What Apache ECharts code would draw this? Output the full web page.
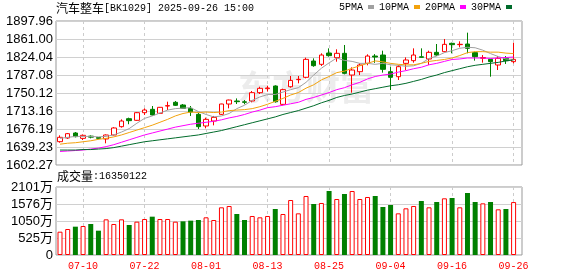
<!DOCTYPE html>
<html><head><meta charset="utf-8">
<script src="https://cdn.jsdelivr.net/npm/echarts@6/dist/echarts.min.js"></script>
<style>html,body{margin:0;padding:0;background:#fff}#c{width:578px;height:276px}</style>
</head><body><div id="c"></div>
<script>
const dates = ['07-07','07-08','07-09','07-10','07-11','07-14','07-15','07-16','07-17','07-18','07-21','07-22','07-23','07-24','07-25','07-28','07-29','07-30','07-31','08-01','08-04','08-05','08-06','08-07','08-08','08-11','08-12','08-13','08-14','08-15','08-18','08-19','08-20','08-21','08-22','08-25','08-26','08-27','08-28','08-29','09-01','09-02','09-03','09-04','09-05','09-08','09-09','09-10','09-11','09-12','09-15','09-16','09-17','09-18','09-19','09-22','09-23','09-24','09-25','09-26'];
const opens  = [1650.2,1657.7,1668,1657,1661.5,1658.8,1655.7,1663.9,1681,1697.4,1694,1709.7,1716.6,1708.4,1723.4,1731,1725.5,1718.6,1706.3,1682.4,1692.6,1706.3,1727.5,1733.7,1732,1733.7,1750.8,1759,1764.5,1726.8,1763,1777.5,1782.3,1815.8,1809,1832.2,1822.7,1831.6,1787,1793.9,1811,1826,1828.1,1793.9,1783.6,1811,1816.5,1824.5,1819.9,1833.6,1835,1852.1,1849.4,1850.7,1833,1821.3,1819.2,1807.6,1821.3,1814.5];
const closes = [1659.1,1666.6,1660.5,1663.2,1659.5,1657,1663.9,1678.3,1692.6,1693.3,1709.7,1715.2,1705,1720.7,1724.1,1724.8,1718.6,1711,1681,1696,1700,1727.5,1735.7,1732.3,1731,1750.8,1759.7,1760.4,1732.3,1757,1776,1778.2,1819.2,1806.2,1828.1,1826.8,1831.6,1790.5,1797.3,1807.6,1826,1824,1798.7,1782.3,1804.2,1817.9,1828.1,1823.4,1833.6,1828.1,1850,1849.4,1850.1,1841.8,1824.7,1823,1814.5,1821.3,1816.5,1819.2];
const lows   = [1648,1656,1659,1653.6,1657,1655,1646.8,1663,1679,1686,1693,1705,1703.6,1707,1715.2,1723.4,1717.3,1703,1676.2,1677.6,1683.7,1705,1718.6,1727.5,1727,1731,1748,1753,1730.3,1724.8,1761,1770,1780.2,1804,1805.6,1824.7,1814.4,1788.4,1750.8,1787,1807,1812,1791.9,1756.3,1776.8,1797.3,1812.4,1822.6,1807.6,1826,1833.6,1831.6,1843.9,1831.6,1816.5,1812.4,1783.6,1797.3,1809.7,1811];
const highs  = [1663.2,1668,1670,1665,1663,1659.5,1665,1680,1696,1699.5,1711,1718.6,1723.4,1721.4,1732.3,1733.7,1727.5,1723.4,1709.7,1699.5,1703,1728,1736.4,1739,1735.7,1754.2,1763,1765,1765.9,1759,1785,1785,1822.7,1821.3,1831.6,1841.8,1839.8,1848.7,1802.8,1811,1829.5,1830,1837,1804.2,1807.6,1823.3,1841.8,1841.8,1837,1850.7,1861,1853.5,1856.2,1874,1835,1828,1819.9,1826,1826,1853.5];
const ma5  = [1657,1659,1661,1661,1661,1660,1661,1664,1670,1677,1688,1698,1703,1709,1715,1718,1719,1720,1712,1706,1701,1703,1708,1718,1725,1735,1742,1747,1747,1752,1757,1761,1772,1787,1801,1812,1822,1817,1815,1811,1811,1809,1811,1808,1807,1805,1806,1811,1821,1826,1833,1837,1842,1844,1843,1838,1831,1825,1820,1819];
const ma10 = [1645,1647,1648,1650,1652,1655,1657,1660,1664,1669,1674,1679,1684,1690,1696,1703,1708,1711,1710,1711,1710,1711,1714,1715,1716,1718,1722,1727,1733,1739,1746,1751,1760,1767,1777,1784,1792,1795,1801,1806,1811,1816,1814,1811,1809,1808,1808,1811,1815,1817,1819,1822,1827,1833,1835,1835,1834,1834,1832,1831];
const ma20 = [1630,1631,1632,1633,1635,1637,1640,1644,1649,1654,1659,1664,1668,1672,1676,1680,1683,1686,1688,1690,1692,1695,1699,1702,1706,1711,1715,1720,1722,1725,1728,1731,1737,1741,1746,1751,1757,1761,1767,1772,1779,1784,1787,1789,1793,1796,1800,1803,1808,1811,1815,1819,1820,1822,1822,1822,1821,1822,1823,1824];
const ma30 = [1633,1633,1633,1634,1634,1635,1636,1638,1641,1644,1647,1650,1652,1654,1656,1658,1660,1662,1664,1667,1670,1673,1677,1681,1685,1689,1693,1697,1701,1706,1710,1714,1719,1724,1730,1735,1741,1745,1748,1752,1756,1759,1762,1765,1767,1770,1774,1778,1783,1787,1792,1796,1800,1804,1807,1809,1811,1813,1816,1818];
// volume in 万 (10k shares)
const volumes = [720,803,875,896,958,751,1102,958,1102,927,1030,1112,1184,1112,1112,1030,1040,1061,1081,1164,1081,1473,1514,1267,1081,1205,1164,1205,1421,1267,1699,1287,1823,1576,1607,1977,1730,1885,1977,1730,1792,1823,1483,1545,1287,1442,1514,1668,1473,1638,1751,1761,1473,1916,1638,1596,1638,1411,1421,1635.0122];
const volUp = [1,1,0,1,0,0,1,1,1,0,1,1,0,1,1,1,0,0,0,1,1,1,1,0,0,1,1,1,0,1,1,1,1,0,1,0,1,0,1,1,1,0,0,0,1,1,1,0,1,0,1,0,1,0,0,1,0,1,0,1];
const yTicks = ['1602.27','1639.23','1676.19','1713.16','1750.12','1787.08','1824.04','1861.00','1897.96'];
const volTicks = ['0','525万','1050万','1576万','2101万'];
const volMax = 2100.8;
const maNames = ['5PMA','10PMA','20PMA','30PMA'];
const maColors = ['#a0a0a0','#f2a20c','#ff00ff','#006b2b'];

const yMin = parseFloat(yTicks[0]), yMax = parseFloat(yTicks[yTicks.length-1]);
const isTick = (i) => i >= 3 && (i - 3) % 8 === 0;
const candle = dates.map((d,i)=>[opens[i], closes[i], lows[i], highs[i]]);
const volData = volumes.map((v,i)=>({value:v, itemStyle: volUp[i] ? {color:'#ffffff', borderColor:'#ff0000', borderWidth:1} : {color:'#008000', borderColor:'#008000', borderWidth:0}}));
const lastVol = String(Math.round(volumes[volumes.length-1]*10000));

const chart = echarts.init(document.getElementById('c'));
const dash = {show:true, interval:(i)=>isTick(i), lineStyle:{color:'#cccccc', type:[3,3], width:1}};
chart.setOption({
  animation:false,
  textStyle:{fontFamily:'Liberation Sans'},
  grid:[
    {left:56, top:21, width:466, height:144, show:true, borderColor:'#999', borderWidth:1},
    {left:60, top:21, width:453.6, height:144},
    {left:56, top:187, width:466, height:68, show:true, borderColor:'#999', borderWidth:1},
    {left:60, top:187, width:453.6, height:68}
  ],
  xAxis:[
    {type:'value', gridIndex:0, min:0, max:1, show:false},
    {type:'category', gridIndex:1, data:dates, boundaryGap:false, axisLine:{show:false}, axisTick:{show:false}, axisLabel:{show:false}, splitLine:dash},
    {type:'value', gridIndex:2, min:0, max:1, show:false},
    {type:'category', gridIndex:3, data:dates, boundaryGap:false, axisLine:{show:false}, axisTick:{show:false},
      axisLabel:{show:true, interval:(i)=>isTick(i), color:'#ff0000', fontFamily:'Liberation Mono', fontSize:10, margin:6}, splitLine:dash}
  ],
  yAxis:[
    {type:'value', gridIndex:0, min:0, max:yTicks.length-1, interval:1, axisLine:{show:false}, axisTick:{show:false},
      axisLabel:{formatter:(v)=>yTicks[Math.round(v)], color:'#000', fontSize:13, margin:3, fontFamily:'Liberation Sans'},
      splitLine:{lineStyle:{color:'#d0d0d0', width:1}}},
    {type:'value', gridIndex:1, min:yMin, max:yMax, show:false},
    {type:'value', gridIndex:2, min:0, max:volTicks.length-1, interval:1, axisLine:{show:false}, axisTick:{show:false},
      axisLabel:{formatter:(v)=>volTicks[Math.round(v)], color:'#000', fontSize:13, margin:3, fontFamily:'Liberation Sans, "Noto Sans CJK SC"'},
      splitLine:{lineStyle:{color:'#d0d0d0', width:1}}},
    {type:'value', gridIndex:3, min:0, max:volMax, show:false}
  ],
  legend:{data:maNames, left:339, top:2, align:'right', icon:'rect', itemWidth:6, itemHeight:4, itemGap:5, padding:0, selectedMode:false,
    textStyle:{fontFamily:'Liberation Mono', fontSize:10, color:'#000'}},
  graphic:[
    {type:'text', left:238, top:70, z:-1, style:{text:'东方财富', font:'bold 34px "Noto Sans CJK SC"', fill:'#ececec'}},
    {type:'text', left:56, top:2, style:{text:'{a|汽车整车}{b|[BK1029] 2025-09-26 15:00}', fill:'#000',
      rich:{a:{fontSize:12, fontFamily:'Noto Sans CJK SC'}, b:{fontSize:10, fontFamily:'Liberation Mono'}}}},
    {type:'text', left:57, top:170, style:{text:'{a|成交量}{b|:'+lastVol+'}', fill:'#000',
      rich:{a:{fontSize:12, fontFamily:'Noto Sans CJK SC'}, b:{fontSize:10, fontFamily:'Liberation Mono'}}}}
  ],
  series:[
    {type:'candlestick', name:'K', xAxisIndex:1, yAxisIndex:1, data:candle, barWidth:5, clip:false,
      itemStyle:{color:'#ffffff', color0:'#008000', borderColor:'#ff0000', borderColor0:'#008000', borderWidth:1}},
    ...[ma5,ma10,ma20,ma30].map((d,k)=>({type:'line', name:maNames[k], xAxisIndex:1, yAxisIndex:1, data:d, showSymbol:false, symbol:'none',
      color:maColors[k], lineStyle:{width:1, color:maColors[k]}, clip:false})),
    {type:'bar', name:'VOL', xAxisIndex:3, yAxisIndex:3, data:volData, barWidth:5, clip:false}
  ]
});
</script></body></html>
